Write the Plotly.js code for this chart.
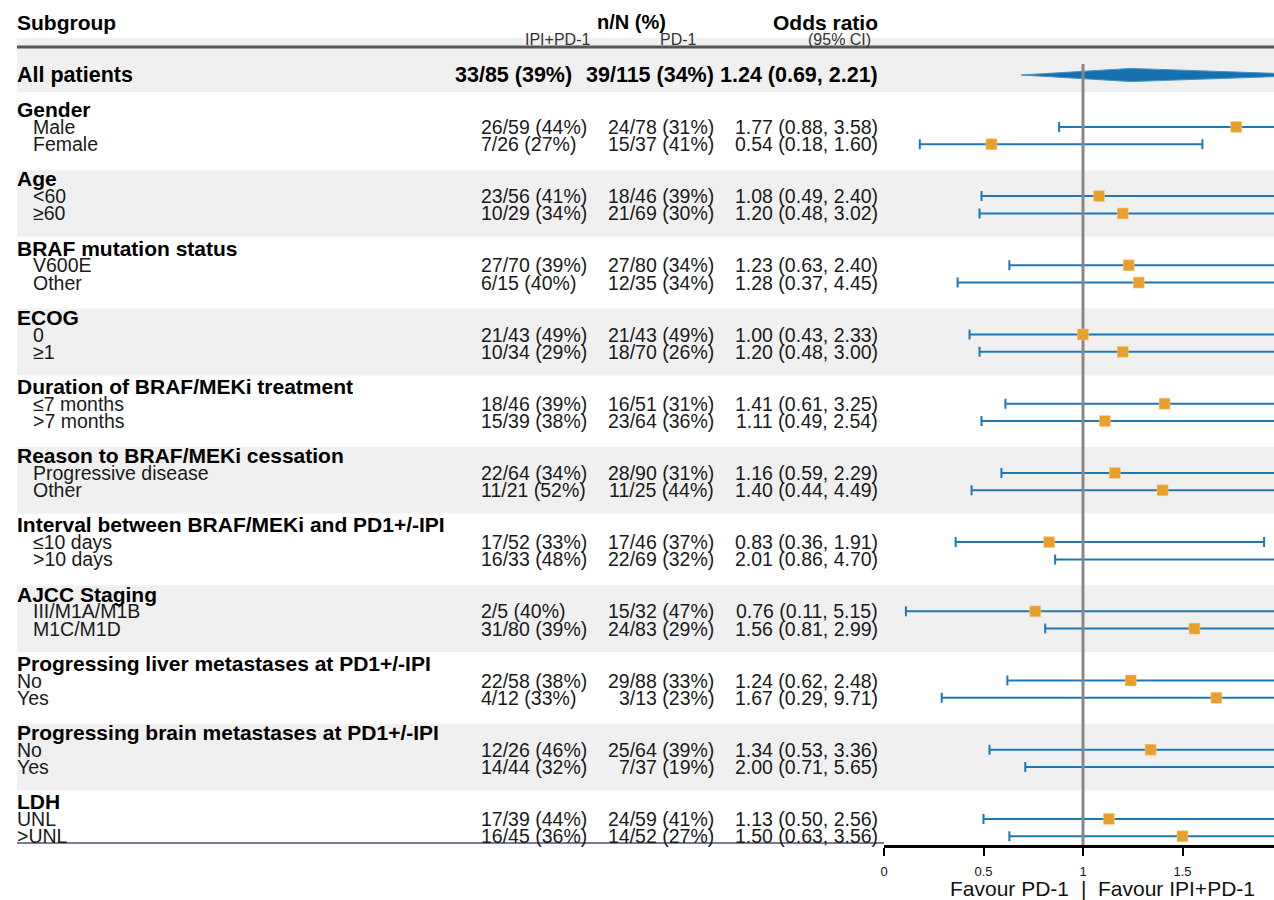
<!DOCTYPE html>
<html><head><meta charset="utf-8">
<script src="https://cdn.plot.ly/plotly-3.0.1.min.js"></script>
<style>html,body{margin:0;padding:0;background:#fff}</style>
</head><body><div id="chart" style="width:1274px;height:900px"></div>
<script>
// ---------------- DATA ----------------
const allLabel = 'All patients';
const allIpiPd1 = '33/85 (39%)';
const allPd1 = '39/115 (34%)';
const allOrEst = 1.24, allOrLow = 0.69, allOrHigh = 2.21;

const groupNames = [
  'Gender', 'Age', 'BRAF mutation status', 'ECOG', 'Duration of BRAF/MEKi treatment',
  'Reason to BRAF/MEKi cessation', 'Interval between BRAF/MEKi and PD1+/-IPI', 'AJCC Staging',
  'Progressing liver metastases at PD1+/-IPI', 'Progressing brain metastases at PD1+/-IPI', 'LDH'
];
const subgroupNames = [
  ['Male', 'Female'], ['<60', '≥60'], ['V600E', 'Other'], ['0', '≥1'], ['≤7 months', '>7 months'],
  ['Progressive disease', 'Other'], ['≤10 days', '>10 days'], ['III/M1A/M1B', 'M1C/M1D'],
  ['No', 'Yes'], ['No', 'Yes'], ['UNL', '>UNL']
];
const ipiPd1Counts = [
  ['26/59 (44%)', '7/26 (27%)'], ['23/56 (41%)', '10/29 (34%)'], ['27/70 (39%)', '6/15 (40%)'],
  ['21/43 (49%)', '10/34 (29%)'], ['18/46 (39%)', '15/39 (38%)'], ['22/64 (34%)', '11/21 (52%)'],
  ['17/52 (33%)', '16/33 (48%)'], ['2/5 (40%)', '31/80 (39%)'], ['22/58 (38%)', '4/12 (33%)'],
  ['12/26 (46%)', '14/44 (32%)'], ['17/39 (44%)', '16/45 (36%)']
];
const pd1Counts = [
  ['24/78 (31%)', '15/37 (41%)'], ['18/46 (39%)', '21/69 (30%)'], ['27/80 (34%)', '12/35 (34%)'],
  ['21/43 (49%)', '18/70 (26%)'], ['16/51 (31%)', '23/64 (36%)'], ['28/90 (31%)', '11/25 (44%)'],
  ['17/46 (37%)', '22/69 (32%)'], ['15/32 (47%)', '24/83 (29%)'], ['29/88 (33%)', '3/13 (23%)'],
  ['25/64 (39%)', '7/37 (19%)'], ['24/59 (41%)', '14/52 (27%)']
];
const orEst = [[1.77, 0.54], [1.08, 1.20], [1.23, 1.28], [1.00, 1.20], [1.41, 1.11], [1.16, 1.40],
  [0.83, 2.01], [0.76, 1.56], [1.24, 1.67], [1.34, 2.00], [1.13, 1.50]];
const orLow = [[0.88, 0.18], [0.49, 0.48], [0.63, 0.37], [0.43, 0.48], [0.61, 0.49], [0.59, 0.44],
  [0.36, 0.86], [0.11, 0.81], [0.62, 0.29], [0.53, 0.71], [0.50, 0.63]];
const orHigh = [[3.58, 1.60], [2.40, 3.02], [2.40, 4.45], [2.33, 3.00], [3.25, 2.54], [2.29, 4.49],
  [1.91, 4.70], [5.15, 2.99], [2.48, 9.71], [3.36, 5.65], [2.56, 3.56]];
const tickVals = [0, 0.5, 1, 1.5];
const tickText = ['0', '0.5', '1', '1.5'];

// ---------------- LAYOUT HELPERS ----------------
const W = 1274, H = 900;
const rowPx0 = 75, rowStep = 17.3;
const plotTop = 38, plotBottom = 845;
const axisLeftPx = 884, pxPerUnit = 199;
const FONT = 'Liberation Sans, Arial, sans-serif';
const yTopRow = (plotTop - rowPx0) / rowStep;
const yBotRow = (plotBottom - rowPx0) / rowStep;
const px = p => p / W;
const py = p => 1 - p / H;
const fmt = v => v.toFixed(2);
const orText = (e, l, h) => `${fmt(e)} (${fmt(l)}, ${fmt(h)})`;
const indentPx = [33, 33, 33, 33, 33, 33, 33, 33, 17, 17, 17];

const annotations = [];
const shapes = [];
function txt(text, xPx, row, anchor, size, bold, color, yref) {
  annotations.push({
    text: bold ? '<b>' + text + '</b>' : text,
    xref: 'paper', x: px(xPx), xanchor: anchor,
    xshift: anchor === 'left' ? -2 : (anchor === 'right' ? 2 : 0),
    yref: yref || 'y', y: row, yanchor: 'middle',
    showarrow: false, font: {family: FONT, size: size, color: color || '#111'}
  });
}

// headers
txt('Subgroup', 17, py(22), 'left', 21, true, '#000', 'paper');
txt('n/N (%)', 631, py(22), 'center', 20, true, '#000', 'paper');
txt('Odds ratio', 878, py(22), 'right', 21, true, '#000', 'paper');
txt('IPI+PD-1', 590, py(40), 'right', 16, false, '#333', 'paper');
txt('PD-1', 697, py(40), 'right', 16, false, '#333', 'paper');
txt('(95% CI)', 871, py(40), 'right', 16, false, '#333', 'paper');

// rows
const ptsY = [], ptsX = [], ptsHi = [], ptsLo = [];
txt(allLabel, 17, 0, 'left', 21.5, true, '#000');
txt(allIpiPd1, 572, 0, 'right', 21.5, true, '#000');
txt(allPd1, 714, 0, 'right', 21.5, true, '#000');
txt(orText(allOrEst, allOrLow, allOrHigh), 878, 0, 'right', 21.5, true, '#000');

// top band (header + all patients)
shapes.push({type: 'rect', layer: 'below', xref: 'paper', yref: 'y', x0: px(17), x1: 1,
  y0: yTopRow, y1: 0.98, fillcolor: '#f0f0f0', line: {width: 0}});

let r = 2;
groupNames.forEach((g, gi) => {
  if (gi % 2 === 1) {
    shapes.push({type: 'rect', layer: 'below', xref: 'paper', yref: 'y', x0: px(17), x1: 1,
      y0: r - 0.5, y1: r + 3.35, fillcolor: '#f0f0f0', line: {width: 0}});
  }
  txt(g, 17, r, 'left', 21, true, '#000');
  subgroupNames[gi].forEach((s, si) => {
    const row = r + 1 + si;
    txt(s, indentPx[gi], row, 'left', 19.5, false, '#1a1a1a');
    txt(ipiPd1Counts[gi][si], 481, row, 'left', 19.5, false, '#1a1a1a');
    txt(pd1Counts[gi][si], 714, row, 'right', 19.5, false, '#1a1a1a');
    txt(orText(orEst[gi][si], orLow[gi][si], orHigh[gi][si]), 878, row, 'right', 19.5, false, '#1a1a1a');
    ptsY.push(row); ptsX.push(orEst[gi][si]);
    ptsHi.push(orHigh[gi][si] - orEst[gi][si]);
    ptsLo.push(orEst[gi][si] - orLow[gi][si]);
  });
  r += subgroupNames[gi].length + 2;
});

// lines
shapes.push({type: 'line', xref: 'paper', yref: 'paper', x0: px(17), x1: 1, y0: py(47), y1: py(47),
  line: {color: '#555', width: 3}});
shapes.push({type: 'line', xref: 'paper', yref: 'paper', x0: px(17), x1: px(884), y0: py(843), y1: py(843),
  line: {color: '#7b7b9b', width: 2}});

// favour labels
const favFont = {family: FONT, size: 21, color: '#111'};
annotations.push({text: 'Favour PD-1', xref: 'x', x: 1, xshift: -12, xanchor: 'right', yref: 'paper', y: py(888), yanchor: 'middle', showarrow: false, font: favFont});
annotations.push({text: '|', xref: 'x', x: 1, xanchor: 'center', yref: 'paper', y: py(888), yanchor: 'middle', showarrow: false, font: favFont});
annotations.push({text: 'Favour IPI+PD-1', xref: 'x', x: 1, xshift: 13, xanchor: 'left', yref: 'paper', y: py(888), yanchor: 'middle', showarrow: false, font: favFont});

const h = 0.38;
const traces = [
  { // summary diamond
    x: [allOrLow, allOrEst, allOrHigh, allOrEst, allOrLow], y: [0, -h, 0, h, 0],
    mode: 'lines', fill: 'toself', fillcolor: '#1570ad', line: {color: '#4a90c4', width: 1},
    hoverinfo: 'skip', showlegend: false
  },
  { // CI bars
    x: ptsX, y: ptsY, mode: 'markers', marker: {size: 1, opacity: 0},
    error_x: {type: 'data', symmetric: false, array: ptsHi, arrayminus: ptsLo,
      color: '#1f77b4', thickness: 2, width: 5},
    hoverinfo: 'skip', showlegend: false
  },
  { // reference line at OR = 1
    x: [1, 1], y: [-0.64, yBotRow], mode: 'lines', line: {color: '#888', width: 3},
    hoverinfo: 'skip', showlegend: false
  },
  { // point estimates
    x: ptsX, y: ptsY, mode: 'markers',
    marker: {symbol: 'square', size: 11, color: '#E8A02A', line: {color: '#f5d39a', width: 0.5}},
    hoverinfo: 'skip', showlegend: false
  }
];

const layout = {
  width: W, height: H,
  margin: {l: 0, r: 0, t: 0, b: 0},
  paper_bgcolor: '#fff', plot_bgcolor: 'rgba(0,0,0,0)',
  showlegend: false, hovermode: false,
  xaxis: {
    domain: [axisLeftPx / W, 1], range: [0, (W - axisLeftPx) / pxPerUnit],
    showgrid: false, zeroline: false, showline: true, linecolor: '#000', linewidth: 3,
    ticks: 'outside', ticklen: 8, tickwidth: 2, tickcolor: '#000',
    tickvals: tickVals, ticktext: tickText, tickfont: {family: FONT, size: 13, color: '#111'},
    ticklabelstandoff: 4, fixedrange: true
  },
  yaxis: {
    domain: [1 - plotBottom / H, 1 - plotTop / H], range: [yBotRow, yTopRow],
    showgrid: false, zeroline: false, showline: false, showticklabels: false, ticks: '', fixedrange: true
  },
  shapes: shapes,
  annotations: annotations
};

Plotly.newPlot('chart', traces, layout, {displayModeBar: false, staticPlot: true});
</script>
</body></html>
